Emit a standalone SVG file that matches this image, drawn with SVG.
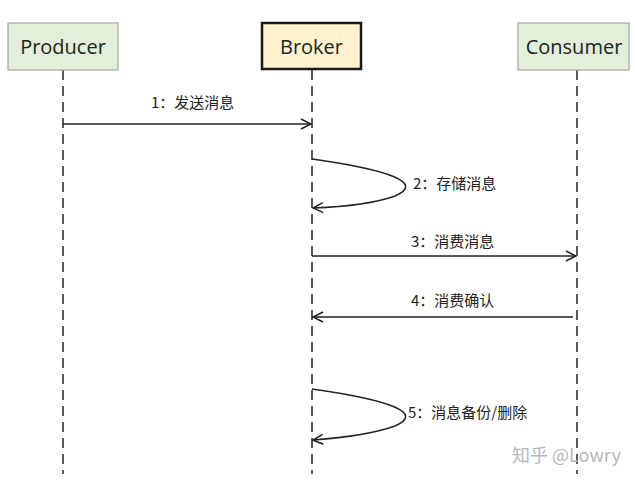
<svg xmlns="http://www.w3.org/2000/svg" width="635" height="492" viewBox="0 0 635 492">
<defs>
<style>
.box{fill:#e2efd9;stroke:#a6a6a6;stroke-width:1.2}
.bbox{fill:#fff2cc;stroke:#1a1a1a;stroke-width:2.5}
.name{font-family:"Open Sans","Noto Sans",sans-serif;font-size:20px;fill:#222;text-anchor:middle}
.life{stroke:#222;stroke-width:1.5;stroke-dasharray:10 6;fill:none}
.msg{stroke:#222;stroke-width:1.5;fill:none}
.lbl{font-family:"Noto Sans CJK SC","Noto Sans",sans-serif;font-size:15px;fill:#222}
.wm{font-family:"Noto Sans CJK SC","Noto Sans",sans-serif;font-size:18px;fill:#b8b8b8}
</style>
<marker id="arr" viewBox="0 0 12 12" refX="11" refY="6" markerWidth="12" markerHeight="12" markerUnits="userSpaceOnUse" orient="auto">
<path d="M1,1 L11,6 L1,11" fill="none" stroke="#222" stroke-width="1.5"/>
</marker>
</defs>
<rect width="635" height="492" fill="#fff"/>
<g id="lifelines">
<line class="life" x1="63" y1="70" x2="63" y2="474"/>
<line class="life" x1="312" y1="70" x2="312" y2="474"/>
<line class="life" x1="577" y1="70" x2="577" y2="474"/>
</g>
<g id="producer">
<rect class="box" x="8" y="23" width="110" height="47"/>
<text class="name" x="63" y="53.5">Producer</text>
</g>
<g id="broker">
<rect class="bbox" x="262" y="23" width="99" height="46"/>
<text class="name" x="311.5" y="53.5">Broker</text>
</g>
<g id="consumer">
<rect class="box" x="518" y="23" width="111" height="47"/>
<text class="name" x="574" y="53.5">Consumer</text>
</g>
<g id="connectors">
<line class="msg" x1="63" y1="124" x2="311" y2="124" marker-end="url(#arr)"/>
<path class="msg" d="M312,159 C390,170 425,183 395,196 C370,205 340,207 313,208" marker-end="url(#arr)"/>
<line class="msg" x1="312" y1="256" x2="576" y2="256" marker-end="url(#arr)"/>
<line class="msg" x1="573" y1="317" x2="313" y2="317" marker-end="url(#arr)"/>
<path class="msg" d="M312,389 C390,400 425,413 395,426 C370,435 340,438 313,440" marker-end="url(#arr)"/>
</g>
<g id="labels">
<text class="lbl" x="151" y="108">1：发送消息</text>
<text class="lbl" x="413" y="189">2：存储消息</text>
<text class="lbl" x="411" y="247">3：消费消息</text>
<text class="lbl" x="411" y="306">4：消费确认</text>
<text class="lbl" x="408" y="418">5：消息备份/删除</text>
</g>
<text class="wm" x="512" y="462">知乎 @Lowry</text>
</svg>
